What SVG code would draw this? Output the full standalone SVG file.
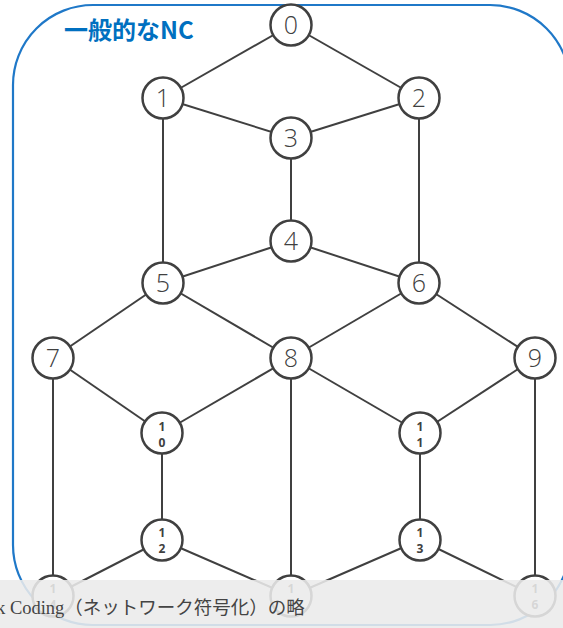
<svg xmlns="http://www.w3.org/2000/svg" width="563" height="628" viewBox="0 0 563 628">
<style>
.e{stroke:#404040;stroke-width:2;fill:none}
.n circle{fill:#fff;stroke:#404040;stroke-width:2.5}
.d{font-family:"Open Sans","Liberation Sans",sans-serif;font-weight:300;font-size:25px;fill:#404040;text-anchor:middle}
.s{font-family:"Open Sans","Liberation Sans",sans-serif;font-weight:700;font-size:12px;fill:#404040;text-anchor:middle}
</style>
<rect width="563" height="628" fill="#fff"/>
<rect id="frame" x="13" y="5" width="557" height="620" rx="80" ry="80" fill="none" stroke="#1f78c8" stroke-width="2.2"/>
<text id="title" x="64" y="39" font-family="'Noto Sans CJK JP','Noto Sans',sans-serif" font-weight="700" font-size="24" fill="#0070c0">一般的なNC</text>
<g id="connectors">
<line class="e" x1="291" y1="25" x2="163" y2="98"/>
<line class="e" x1="291" y1="25" x2="419" y2="98"/>
<line class="e" x1="163" y1="98" x2="291" y2="138"/>
<line class="e" x1="419" y1="98" x2="291" y2="138"/>
<line class="e" x1="163" y1="98" x2="163" y2="283"/>
<line class="e" x1="291" y1="138" x2="291" y2="241"/>
<line class="e" x1="419" y1="98" x2="419" y2="283"/>
<line class="e" x1="291" y1="241" x2="163" y2="283"/>
<line class="e" x1="291" y1="241" x2="419" y2="283"/>
<line class="e" x1="163" y1="283" x2="53" y2="358"/>
<line class="e" x1="163" y1="283" x2="291" y2="358"/>
<line class="e" x1="419" y1="283" x2="291" y2="358"/>
<line class="e" x1="419" y1="283" x2="535" y2="358"/>
<line class="e" x1="53" y1="358" x2="162" y2="433"/>
<line class="e" x1="291" y1="358" x2="162" y2="433"/>
<line class="e" x1="291" y1="358" x2="420" y2="433"/>
<line class="e" x1="535" y1="358" x2="420" y2="433"/>
<line class="e" x1="53" y1="358" x2="53" y2="596"/>
<line class="e" x1="291" y1="358" x2="291" y2="596"/>
<line class="e" x1="535" y1="358" x2="535" y2="596"/>
<line class="e" x1="162" y1="433" x2="162" y2="540"/>
<line class="e" x1="420" y1="433" x2="420" y2="540"/>
<line class="e" x1="162" y1="540" x2="53" y2="596"/>
<line class="e" x1="162" y1="540" x2="291" y2="596"/>
<line class="e" x1="420" y1="540" x2="291" y2="596"/>
<line class="e" x1="420" y1="540" x2="535" y2="596"/>
</g>
<g id="n0" class="n"><circle cx="291" cy="25" r="20.5"/><text class="d" x="291" y="34">0</text></g>
<g id="n1" class="n"><circle cx="163" cy="98" r="20.5"/><text class="d" x="163" y="107">1</text></g>
<g id="n2" class="n"><circle cx="419" cy="98" r="20.5"/><text class="d" x="419" y="107">2</text></g>
<g id="n3" class="n"><circle cx="291" cy="138" r="20.5"/><text class="d" x="291" y="147">3</text></g>
<g id="n4" class="n"><circle cx="291" cy="241" r="20.5"/><text class="d" x="291" y="250">4</text></g>
<g id="n5" class="n"><circle cx="163" cy="283" r="20.5"/><text class="d" x="163" y="292">5</text></g>
<g id="n6" class="n"><circle cx="419" cy="283" r="20.5"/><text class="d" x="419" y="292">6</text></g>
<g id="n7" class="n"><circle cx="53" cy="358" r="20.5"/><text class="d" x="53" y="367">7</text></g>
<g id="n8" class="n"><circle cx="291" cy="358" r="20.5"/><text class="d" x="291" y="367">8</text></g>
<g id="n9" class="n"><circle cx="535" cy="358" r="20.5"/><text class="d" x="535" y="367">9</text></g>
<g id="n10" class="n"><circle cx="162" cy="433" r="20.5"/><text class="s" x="162" y="431">1</text><text class="s" x="162" y="447">0</text></g>
<g id="n11" class="n"><circle cx="420" cy="433" r="20.5"/><text class="s" x="420" y="431">1</text><text class="s" x="420" y="447">1</text></g>
<g id="n12" class="n"><circle cx="162" cy="540" r="20.5"/><text class="s" x="162" y="537">1</text><text class="s" x="162" y="553">2</text></g>
<g id="n13" class="n"><circle cx="420" cy="540" r="20.5"/><text class="s" x="420" y="537">1</text><text class="s" x="420" y="553">3</text></g>
<g id="n14" class="n"><circle cx="53" cy="596" r="20.5"/><text class="s" x="53" y="593">1</text><text class="s" x="53" y="609">4</text></g>
<g id="n15" class="n"><circle cx="291" cy="596" r="20.5"/><text class="s" x="291" y="593">1</text><text class="s" x="291" y="609">5</text></g>
<g id="n16" class="n"><circle cx="535" cy="596" r="20.5"/><text class="s" x="535" y="593">1</text><text class="s" x="535" y="609">6</text></g>
<g id="caption">
<rect x="0" y="580" width="563" height="48" fill="#ebebeb" fill-opacity="0.88"/>
<text x="-4" y="614" font-size="18.5" fill="#444"><tspan font-family="'Liberation Serif',serif">k Coding</tspan><tspan font-family="'Noto Sans CJK JP',sans-serif">（ネットワーク符号化）の略</tspan></text>
</g>
</svg>
